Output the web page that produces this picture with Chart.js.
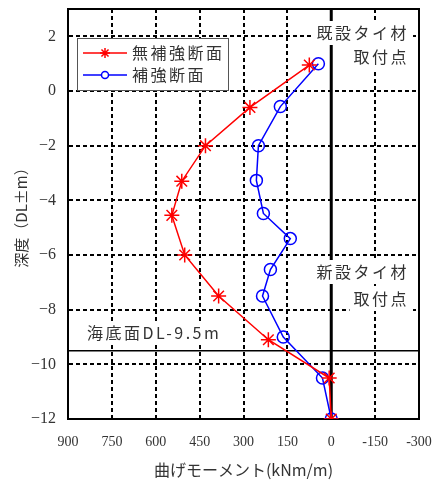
<!DOCTYPE html>
<html>
<head>
<meta charset="utf-8">
<script src="https://cdn.jsdelivr.net/npm/chart.js@4.4.0/dist/chart.umd.min.js"></script>
<style>
  html, body { margin: 0; padding: 0; background: #fff; }
  #wrap { width: 448px; height: 482px; position: relative; }
</style>
</head>
<body>
<div id="wrap"><canvas id="momentChart"></canvas></div>
<script>
// 無補強断面 (red) : moment kNm/m, depth DL m
const unreinforcedMoment = [75, 278, 430, 511, 545, 501, 385, 215, 7, 0];
const unreinforcedDepth = [0.95, -0.6, -2.0, -3.3, -4.55, -6.0, -7.5, -9.1, -10.5, -12.0];

// 補強断面 (blue)
const reinforcedMoment = [44, 174, 249, 256, 232, 140, 208, 235, 164, 30, 0];
const reinforcedDepth = [1.0, -0.57, -2.0, -3.27, -4.48, -5.4, -6.53, -7.5, -9.0, -10.5, -12.0];

const xTicks = [900, 750, 600, 450, 300, 150, 0, -150, -300];
const yTicks = [2, 0, -2, -4, -6, -8, -10, -12];

const seabedDepth = -9.5;

const JP = '"Noto Sans CJK JP", sans-serif';
const NUM = '"Liberation Serif", "DejaVu Serif", serif';
const textColor = "#333";

function toPoints(xs, ys) {
  return xs.map((x, i) => ({ x: x, y: ys[i] }));
}

function labelBox(ctx, text, x, y, align) {
  ctx.save();
  ctx.font = "16px " + JP;
  ctx.letterSpacing = "2.5px";
  const w = ctx.measureText(text).width;
  const left = align === "right" ? x - w : x;
  ctx.fillStyle = "#fff";
  ctx.fillRect(left - 4, y - 12, w + 8, 24);
  ctx.fillStyle = textColor;
  ctx.textAlign = "left";
  ctx.textBaseline = "middle";
  ctx.fillText(text, left, y);
  ctx.restore();
}

const decorations = {
  id: "decorations",
  beforeDatasetsDraw(chart) {
    const { ctx, chartArea: a, scales } = chart;
    const x0 = scales.x.getPixelForValue(0);
    const ySea = scales.y.getPixelForValue(seabedDepth);
    ctx.save();
    // frame
    ctx.strokeStyle = "#000";
    ctx.lineWidth = 2;
    ctx.strokeRect(a.left, a.top, a.right - a.left, a.bottom - a.top);
    // zero moment line
    ctx.lineWidth = 3;
    ctx.beginPath();
    ctx.moveTo(x0, a.top);
    ctx.lineTo(x0, a.bottom);
    ctx.stroke();
    // seabed
    ctx.lineWidth = 1.5;
    ctx.beginPath();
    ctx.moveTo(a.left, ySea);
    ctx.lineTo(a.right, ySea);
    ctx.stroke();
    ctx.restore();

    labelBox(ctx, "既設タイ材", 409, 33, "right");
    labelBox(ctx, "取付点", 409, 57, "right");
    labelBox(ctx, "新設タイ材", 409, 272, "right");
    labelBox(ctx, "取付点", 409, 299, "right");
    labelBox(ctx, "海底面DL-9.5m", 87, 333, "left");
  },
  afterDraw(chart) {
    const ctx = chart.ctx;
    ctx.save();
    // legend
    ctx.fillStyle = "#fff";
    ctx.fillRect(77, 38, 151, 52);
    ctx.strokeStyle = "#555";
    ctx.lineWidth = 1;
    ctx.strokeRect(77.5, 38.5, 151, 52);
    const rows = [
      { label: "無補強断面", color: "#ff0000", style: "star", y: 53 },
      { label: "補強断面", color: "#0000ff", style: "circle", y: 75 },
    ];
    rows.forEach((r) => {
      ctx.strokeStyle = r.color;
      ctx.lineWidth = 1.5;
      ctx.beginPath();
      ctx.moveTo(83, r.y);
      ctx.lineTo(127, r.y);
      ctx.stroke();
      if (r.style === "circle") {
        ctx.fillStyle = "#fff";
        ctx.beginPath();
        ctx.arc(105, r.y, 3.5, 0, Math.PI * 2);
        ctx.fill();
        ctx.stroke();
      } else {
        Chart.helpers.drawPoint(ctx, { pointStyle: "star", radius: 5, borderWidth: 1.5 }, 105, r.y);
      }
      ctx.fillStyle = textColor;
      ctx.font = "16px " + JP;
      ctx.letterSpacing = "2.5px";
      ctx.textBaseline = "middle";
      ctx.fillText(r.label, 132, r.y);
    });
    ctx.restore();
  },
};

const ctx = document.getElementById("momentChart").getContext("2d");
const momentChart = new Chart(ctx, {
  type: "scatter",
  data: {
    datasets: [
      {
        label: "無補強断面",
        data: toPoints(unreinforcedMoment, unreinforcedDepth),
        showLine: true,
        borderColor: "#ff0000",
        backgroundColor: "#ff0000",
        borderWidth: 1.5,
        pointStyle: "star",
        pointRadius: 7.5,
        pointBorderWidth: 1.5,
        tension: 0,
      },
      {
        label: "補強断面",
        data: toPoints(reinforcedMoment, reinforcedDepth),
        showLine: true,
        borderColor: "#0000ff",
        backgroundColor: "rgba(0,0,0,0)",
        borderWidth: 1.5,
        pointStyle: "circle",
        pointRadius: 6,
        pointBorderWidth: 1.5,
        tension: 0,
      },
    ],
  },
  options: {
    responsive: true,
    maintainAspectRatio: false,
    animation: false,
    layout: { padding: { top: 6, right: 29, left: 0, bottom: 0 } },
    plugins: {
      legend: { display: false },
      tooltip: { enabled: false },
    },
    scales: {
      x: {
        type: "linear",
        reverse: true,
        min: -300,
        max: 900,
        afterBuildTicks: (scale) => {
          scale.ticks = xTicks.map((v) => ({ value: v }));
        },
        afterFit: (scale) => {
          scale.height = 63;
          scale.paddingLeft = 0;
          scale.paddingRight = 0;
        },
        ticks: {
          font: { family: NUM, size: 14 },
          color: textColor,
          padding: 15,
          maxRotation: 0,
          callback: (v) => String(v),
        },
        grid: { color: "#000", lineWidth: 2, drawTicks: false },
        border: { display: true, color: "#000", width: 2, dash: [4, 3] },
        title: {
          display: true,
          text: "曲げモーメント(kNm/m)",
          font: { family: JP, size: 16 },
          color: textColor,
          padding: { top: 0, bottom: 2 },
        },
      },
      y: {
        type: "linear",
        min: -12,
        max: 3,
        afterBuildTicks: (scale) => {
          scale.ticks = yTicks.map((v) => ({ value: v }));
        },
        afterFit: (scale) => {
          scale.width = 68;
          scale.paddingTop = 0;
          scale.paddingBottom = 0;
        },
        ticks: {
          font: { family: NUM, size: 16 },
          color: textColor,
          padding: 12,
          callback: (v) => String(v).replace("-", "\u2212"),
        },
        grid: { color: "#000", lineWidth: 2, drawTicks: false },
        border: { display: true, color: "#000", width: 2, dash: [4, 3] },
        title: {
          display: true,
          text: "深度（DL±m）",
          font: { family: JP, size: 15 },
          color: textColor,
          padding: { top: 12, bottom: 0 },
        },
      },
    },
  },
  plugins: [decorations],
});
</script>
</body>
</html>
